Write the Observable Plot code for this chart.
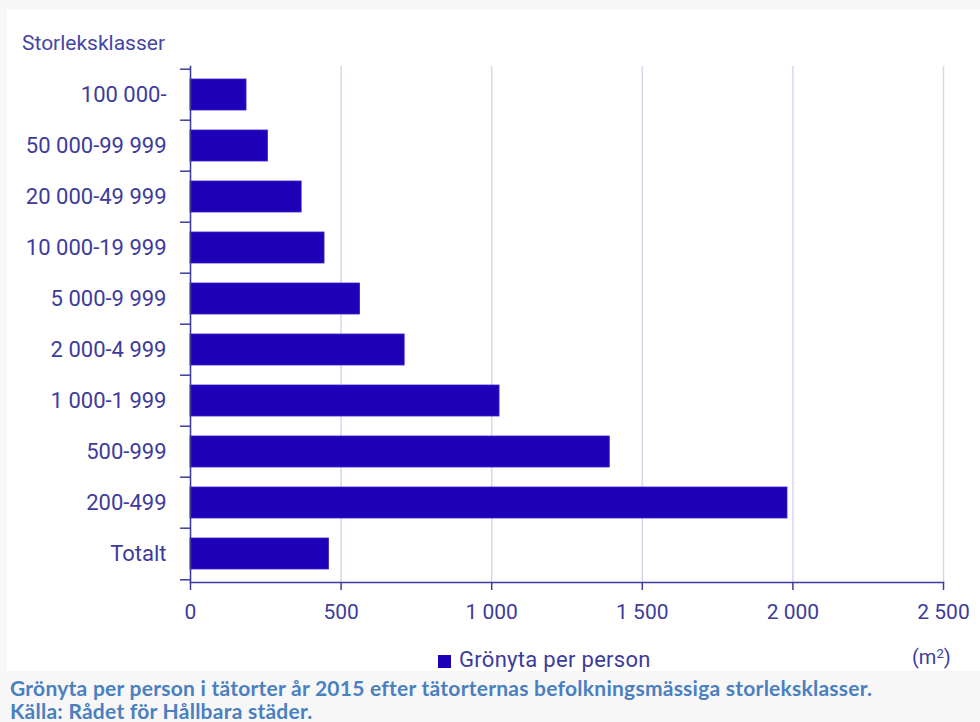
<!DOCTYPE html>
<html>
<head>
<meta charset="utf-8">
<script src="https://cdn.jsdelivr.net/npm/d3@7"></script>
<script src="https://cdn.jsdelivr.net/npm/@observablehq/plot@0.6"></script>
<style>
  html, body { margin: 0; padding: 0; background: #f7f7f7; }
  #wrap { position: relative; width: 980px; height: 722px; overflow: hidden; background: #f7f7f7; font-family: Roboto, sans-serif; }
  #panel { position: absolute; left: 7px; top: 10px; width: 973px; height: 661px; background: #fff; }
  #chart { position: absolute; left: 0; top: 0; }
  .lbl { position: absolute; color: #3d3b9c; font-family: Roboto, sans-serif; white-space: nowrap; }
  #title { left: 22px; top: 30px; font-size: 21px; line-height: 26px; color: #4545a6; }
  #legend { left: 438px; top: 648px; font-size: 22px; line-height: 24px; letter-spacing: 0.3px; }
  #legend .sw { display: inline-block; width: 13px; height: 13px; background: #1f00b9; margin-right: 8px; vertical-align: -1px; }
  #unit { left: 912px; top: 642px; font-size: 20px; line-height: 24px; }
  #unit sup { font-size: 13px; vertical-align: 6px; }
  .cap { position: absolute; left: 10px; font-family: Lato, "Open Sans", sans-serif; font-weight: bold; font-size: 21px; letter-spacing: 0.25px; color: #4a7fc1; white-space: nowrap; line-height: 23px; }
</style>
</head>
<body>
<div id="wrap">
  <div id="panel"></div>
  <div id="chart"></div>
  <div id="title" class="lbl">Storleksklasser</div>
  <div id="legend" class="lbl"><span class="sw"></span>Grönyta per person</div>
  <div id="unit" class="lbl">(m<sup>2</sup>)</div>
  <div class="cap" style="top:676px">Grönyta per person i tätorter år 2015 efter tätorternas befolkningsmässiga storleksklasser.</div>
  <div class="cap" style="top:699px">Källa: Rådet för Hållbara städer.</div>
</div>
<script>
const categories = ["100 000-", "50 000-99 999", "20 000-49 999", "10 000-19 999", "5 000-9 999", "2 000-4 999", "1 000-1 999", "500-999", "200-499", "Totalt"];
const values = [186, 257, 369, 445, 563, 711, 1026, 1392, 1982, 460];
const xTicks = [0, 500, 1000, 1500, 2000, 2500];

const data = categories.map((c, i) => ({cat: c, value: values[i]}));

const W = 980, H = 671, mT = 66, mB = 89, mL = 190, mR = 37;
const step = (H - mT - mB) / categories.length;
const fmt = d3.formatLocale({decimal: ",", thousands: "\u00a0", grouping: [3]}).format(",");
const ink = "#3d3b9c";

const plot = Plot.plot({
  width: W,
  height: H,
  marginTop: mT,
  marginBottom: mB,
  marginLeft: mL,
  marginRight: mR,
  style: {background: "transparent", fontFamily: "Roboto, sans-serif", color: ink, overflow: "visible"},
  x: {domain: [0, 2500]},
  y: {domain: categories, paddingInner: 0.4, paddingOuter: 0.2},
  marks: [
    Plot.gridX(xTicks, {stroke: "#d6d6ee", strokeOpacity: 1, strokeWidth: 1.5}),
    Plot.barX(data, {x: "value", y: "cat", fill: "#1f00b9", stroke: "#3422c4", strokeWidth: 0.8}),
    Plot.ruleY(categories, {y: d => d, x1: -33, x2: 0, dy: -step / 2, stroke: ink, strokeWidth: 1.5, clip: false}),
    Plot.ruleY(categories.slice(-1), {y: d => d, x1: -33, x2: 0, dy: step / 2, stroke: ink, strokeWidth: 1.5, clip: false}),
    Plot.frame({anchor: "left", stroke: ink, strokeWidth: 1.5}),
    Plot.frame({anchor: "bottom", stroke: ink, strokeWidth: 1.5}),
    Plot.axisX({ticks: xTicks, tickFormat: fmt, tickSize: 8, tickPadding: 14, fontSize: 21, label: null, stroke: ink, strokeWidth: 1.5, fill: ink}),
    Plot.axisY({tickSize: 0, tickPadding: 24, fontSize: 22, label: null, fill: ink})
  ]
});
document.getElementById("chart").appendChild(plot);
</script>
</body>
</html>
